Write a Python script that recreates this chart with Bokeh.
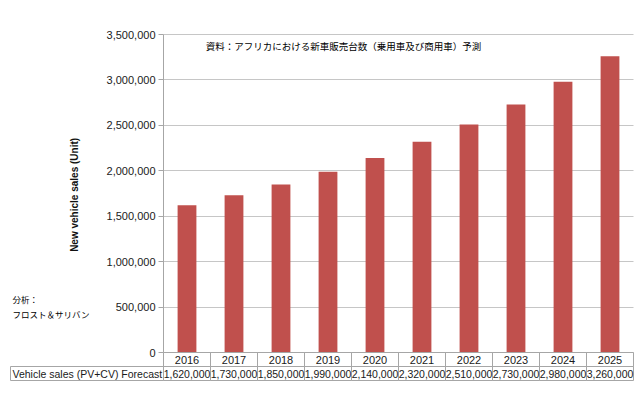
from bokeh.plotting import figure
from bokeh.models import (Range1d, FixedTicker, NumeralTickFormatter, Label, ColumnDataSource)
from bokeh.core.properties import value
from bokeh.embed import file_html
from bokeh.resources import INLINE

# ---- data ----
years = ["2016", "2017", "2018", "2019", "2020", "2021", "2022", "2023", "2024", "2025"]
sales = [1620000, 1730000, 1850000, 1990000, 2140000, 2320000, 2510000, 2730000, 2980000, 3260000]
y_ticks = [0, 500000, 1000000, 1500000, 2000000, 2500000, 3000000, 3500000]
title_text = "資料：アフリカにおける新車販売台数（乗用車及び商用車）予測"
row_label = "Vehicle sales (PV+CV) Forecast"
source_lines = ["分析：", "フロスト＆サリバン"]
y_label = "New vehicle sales  (Unit)"

# ---- layout constants (pixels) ----
W, H = 638, 385
AXIS_X = 163          # x of the value axis
CELL = 47             # width of one year column
TOP_Y, ZERO_Y = 34, 352
ROW_PX = 14
LABEL_LEFT = 10

Y_MAX = y_ticks[-1]
UNIT = Y_MAX / (ZERO_Y - TOP_Y)
ROW = ROW_PX * UNIT
LATIN = "Liberation Sans"
CJK = "Noto Sans CJK JP"
BAR = "#C0504D"
GRID = "#c6c6c6"
BORDER = "#a6a6a6"
TXT = "#1a1a1a"

x_start = -AXIS_X / CELL
p = figure(width=W, height=H, output_backend="svg", toolbar_location=None,
           x_range=Range1d(x_start, x_start + W / CELL),
           y_range=Range1d(-(H - ZERO_Y) * UNIT, Y_MAX + TOP_Y * UNIT),
           x_axis_location=None, min_border_left=0, min_border_right=0,
           min_border_top=0, min_border_bottom=0)
p.outline_line_color = None
p.background_fill_color = "white"
p.border_fill_color = "white"

n = len(years)
pos = [i + 0.5 for i in range(n)]   # centre of each category column
src = ColumnDataSource(dict(x=pos, year=years, sales=sales,
                            label=[f"{v:,}" for v in sales],
                            r1=[-ROW / 2] * n, r2=[-1.5 * ROW] * n))

# gridlines (only across the category area)
p.ygrid.grid_line_color = GRID
p.ygrid.bounds = (0, Y_MAX)
p.ygrid.cross_bounds = (0, n)
p.xgrid.grid_line_color = None

# bars
p.vbar(x="x", top="sales", width=0.4, source=src, fill_color=BAR, line_color=None)

# y axis, fixed at the left edge of the category area
ax = p.yaxis[0]
ax.fixed_location = 0
ax.ticker = FixedTicker(ticks=y_ticks)
ax.formatter = NumeralTickFormatter(format="0,0")
ax.bounds = (0, Y_MAX)
ax.axis_line_color = BORDER
ax.major_tick_line_color = BORDER
ax.major_tick_out = 5
ax.major_tick_in = 0
ax.minor_tick_line_color = None
ax.major_label_text_font = LATIN
ax.major_label_text_font_size = "11px"
ax.major_label_text_color = TXT
ax.major_label_standoff = 3
ax.axis_label = y_label
ax.axis_label_text_font = LATIN
ax.axis_label_text_font_size = "10px"
ax.axis_label_text_font_style = "bold"
ax.axis_label_text_color = "#111111"
ax.axis_label_standoff = 24

# data table below the chart
p.rect(x="x", y="r1", width=1, height=ROW, source=src, fill_color=None, line_color=BORDER)
p.rect(x="x", y="r2", width=1, height=ROW, source=src, fill_color=None, line_color=BORDER)
p.quad(left=[(LABEL_LEFT - AXIS_X) / CELL], right=[0], top=[-ROW], bottom=[-2 * ROW],
       fill_color=None, line_color=BORDER)
p.text(x="x", y="r1", text="year", source=src, text_align="center", text_baseline="middle",
       text_font=value(LATIN), text_font_size="11px", text_color=TXT)
p.text(x="x", y="r2", text="label", source=src, text_align="center", text_baseline="middle",
       text_font=value(LATIN), text_font_size="10.5px", text_color=TXT)
p.add_layout(Label(x=LABEL_LEFT + 2, y=H - 373, x_units="screen", y_units="screen",
                   text=row_label, text_font=LATIN, text_font_size="10.5px",
                   text_baseline="middle", text_color=TXT))

# title inside plot
p.add_layout(Label(x=343, y=H - 45, x_units="screen", y_units="screen", text=title_text,
                   text_font=CJK, text_font_size="9.5px", text_align="center",
                   text_baseline="middle", text_color="#000000"))

# source note
for i, t in enumerate(source_lines):
    p.add_layout(Label(x=12, y=H - 298 - 15 * i, x_units="screen", y_units="screen", text=t,
                       text_font=CJK, text_font_size="8.5px", text_baseline="middle",
                       text_color="#000000"))

open("out.html", "w").write(file_html(p, INLINE))
